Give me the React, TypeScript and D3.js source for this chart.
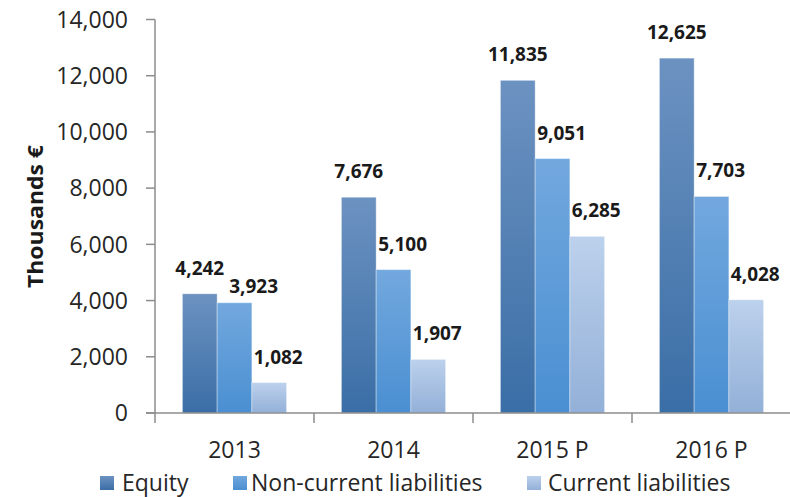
import React from "react";
import * as d3 from "d3";

const categories = ["2013", "2014", "2015 P", "2016 P"];
const seriesNames = ["Equity", "Non-current liabilities", "Current liabilities"];
const equity = [4242, 7676, 11835, 12625];
const nonCurrent = [3923, 5100, 9051, 7703];
const current = [1082, 1907, 6285, 4028];
const yTicks = [0, 2000, 4000, 6000, 8000, 10000, 12000, 14000];

const W = 790;
const H = 497;
const FONT = "'Open Sans', 'Noto Sans', sans-serif";
const TEXT = "#262626";
const AXIS = "#8c8c8c";

const grads = [
  { id: "g0", top: "#6c92c1", bottom: "#3a6ea6" },
  { id: "g1", top: "#72a8de", bottom: "#4a8fd2" },
  { id: "g2", top: "#bcd1ec", bottom: "#93b0d8" },
];
// label alignment per series: equity centred, others start near bar's left edge
const labelAnchor = ["middle", "start", "start"];
// manual nudge of a label that Excel moved to avoid overlap: [series, category, dx, dy]
const labelNudges: [number, number, number, number][] = [[1, 0, 10, 9]];

export default function App() {
  const values = [equity, nonCurrent, current];
  const y = d3.scaleLinear().domain([0, 14000]).range([413, 19.5]);
  const x = d3.scaleBand<string>().domain(categories).range([155, 791]).padding(0);
  const inner = d3
    .scaleBand<string>()
    .domain(seriesNames)
    .range([0, x.bandwidth()])
    .paddingInner(0)
    .paddingOuter(0.79);
  const fmt = d3.format(",");

  const legendItems = [
    { sx: 100, tx: 122 },
    { sx: 233, tx: 251 },
    { sx: 527, tx: 548 },
  ];

  return (
    <svg
      width={W}
      height={H}
      style={{ position: "absolute", left: 0, top: 0, background: "#fff" }}
      fontFamily={FONT}
    >
      <defs>
        {grads.map((g) => (
          <linearGradient key={g.id} id={g.id} x1="0" y1="0" x2="0" y2="1">
            <stop offset="0%" stopColor={g.top} />
            <stop offset="100%" stopColor={g.bottom} />
          </linearGradient>
        ))}
      </defs>

      {/* y axis */}
      <line x1={155} x2={155} y1={y(14000)} y2={y(0)} stroke={AXIS} strokeWidth={1.5} />
      {yTicks.map((t) => (
        <g key={t}>
          <line x1={146} x2={155} y1={y(t)} y2={y(t)} stroke={AXIS} strokeWidth={1.5} />
          <text
            x={128}
            y={y(t)}
            dy="0.36em"
            textAnchor="end"
            fontSize={23}
            fill={TEXT}
          >
            {fmt(t)}
          </text>
        </g>
      ))}

      {/* bars */}
      {categories.map((c, ci) =>
        seriesNames.map((s, si) => {
          const v = values[si][ci];
          const bx = (x(c) as number) + (inner(s) as number);
          const bw = inner.bandwidth();
          return (
            <rect
              key={c + s}
              x={bx}
              y={y(v)}
              width={bw}
              height={y(0) - y(v)}
              fill={`url(#${grads[si].id})`}
              stroke="rgba(255,255,255,0.35)"
              strokeWidth={1}
            />
          );
        })
      )}

      {/* x axis */}
      <line x1={146} x2={791} y1={y(0)} y2={y(0)} stroke={AXIS} strokeWidth={1.5} />
      {categories.map((c) => (
        <line
          key={"t" + c}
          x1={x(c) as number}
          x2={x(c) as number}
          y1={y(0)}
          y2={y(0) + 10}
          stroke={AXIS}
          strokeWidth={1.5}
        />
      ))}
      {categories.map((c) => (
        <text
          key={"l" + c}
          x={(x(c) as number) + x.bandwidth() / 2}
          y={458}
          textAnchor="middle"
          fontSize={23}
          fill={TEXT}
        >
          {c}
        </text>
      ))}

      {/* data labels */}
      {categories.map((c, ci) =>
        seriesNames.map((s, si) => {
          const v = values[si][ci];
          const bx = (x(c) as number) + (inner(s) as number);
          const bw = inner.bandwidth();
          const nudge = labelNudges.find((n) => n[0] === si && n[1] === ci);
          const dx = nudge ? nudge[2] : 0;
          const dy = nudge ? nudge[3] : 0;
          const anchor = labelAnchor[si];
          const lx = anchor === "middle" ? bx + bw / 2 : bx + 2;
          return (
            <text
              key={"d" + c + s}
              x={lx + dx}
              y={y(v) - 19 + dy}
              textAnchor={anchor}
              fontSize={19}
              fontWeight="bold"
              fill="#1a1a1a"
            >
              {fmt(v)}
            </text>
          );
        })
      )}

      {/* y title */}
      <text
        transform={`translate(43, 216.5) rotate(-90)`}
        textAnchor="middle"
        fontSize={22}
        fontWeight="bold"
        fill="#1a1a1a"
        textLength={143}
        lengthAdjust="spacingAndGlyphs"
      >
        Thousands €
      </text>

      {/* legend */}
      {seriesNames.map((s, si) => (
        <g key={"lg" + s}>
          <rect
            x={legendItems[si].sx}
            y={476}
            width={14}
            height={14}
            fill={`url(#${grads[si].id})`}
          />
          <text x={legendItems[si].tx} y={491} fontSize={23} fill={TEXT}>
            {s}
          </text>
        </g>
      ))}
    </svg>
  );
}
